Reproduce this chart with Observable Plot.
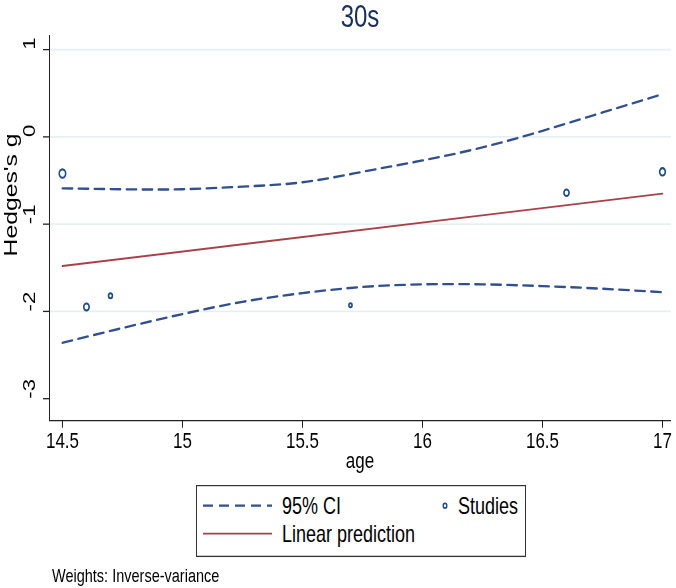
<!DOCTYPE html>
<html>
<head>
<meta charset="utf-8">
<script src="https://cdn.jsdelivr.net/npm/d3@7"></script>
<script src="https://cdn.jsdelivr.net/npm/@observablehq/plot@0.6"></script>
<style>
  html, body { margin: 0; padding: 0; background: #fff; }
  #outer { position: relative; width: 676px; height: 588px; overflow: visible; }
  #wrap {
    position: absolute; left: 0; top: 0; width: 676px; height: 452.3px;
    transform: scaleY(1.3); transform-origin: 0 0;
    font-family: "Liberation Sans", Arial, sans-serif; color: #000;
  }
  #chart { position: absolute; left: 0; top: 0; }
  #title { position: absolute; left: 260px; width: 200px; top: 0px; line-height: 25px;
           text-align: center; font-size: 24px; color: #1a2e5c; }
  #xlabel { position: absolute; left: 310px; width: 100px; top: 346px; line-height: 17px;
            text-align: center; font-size: 17px; }
  #ylabel { position: absolute; left: 10px; top: 150px; font-size: 19px; white-space: nowrap;
            transform: translate(-50%, -50%) rotate(-90deg); line-height: 19px; }
  #legend { position: absolute; left: 196px; top: 373px; }
  #caption { position: absolute; left: 52px; top: 436px; font-size: 14.5px; line-height: 15px; white-space: nowrap; }
</style>
</head>
<body>
<div id="outer">
<div id="wrap">
  <div id="title">30s</div>
  <div id="chart"></div>
  <div id="ylabel">Hedges's g</div>
  <div id="xlabel">age</div>
  <svg id="legend" width="330" height="56"></svg>
  <div id="caption">Weights: Inverse-variance</div>
</div>
</div>
<script>
// ---- data ----
const ciAge   = [14.5, 14.75, 15, 15.25, 15.5, 15.75, 16, 16.25, 16.5, 16.75, 17];
const ciUpper = [-0.59, -0.60, -0.60, -0.57, -0.52, -0.40, -0.27, -0.12, 0.07, 0.28, 0.49];
const ciLower = [-2.36, -2.19, -2.03, -1.89, -1.79, -1.72, -1.69, -1.69, -1.71, -1.74, -1.78];
const predAge = [14.5, 17];
const predG   = [-1.48, -0.65];
const studyAge    = [14.5, 14.6, 14.7, 15.7, 16.6, 17];
const studyG      = [-0.42, -1.95, -1.82, -1.93, -0.64, -0.40];
const studyWeight = [10.2, 7.3, 3.8, 2.4, 6.5, 8.1];
const xTicks = [14.5, 15, 15.5, 16, 16.5, 17];
const yTicks = [1, 0, -1, -2, -3];
const legendLabels = ["95% CI", "Studies", "Linear prediction"];

// ---- build tables ----
const ci = ciAge.map((a, i) => ({age: a, upper: ciUpper[i], lower: ciLower[i]}));
const pred = predAge.map((a, i) => ({age: a, g: predG[i]}));
const studies = studyAge.map((a, i) => ({age: a, g: studyG[i], w: studyWeight[i]}));

const navy = "#304f8c", dotColor = "#1f4e86", red = "#a8404a", axisColor = "#222";
const xDomain = [14.446, 17.0375], yDomain = [-3.252, 1.1605];

const chart = Plot.plot({
  width: 676, height: 350,
  marginTop: 26.9, marginBottom: 26.9, marginLeft: 49, marginRight: 5,
  style: {fontFamily: '"Liberation Sans", Arial, sans-serif', fontSize: "17px", background: "transparent", overflow: "visible"},
  x: {domain: xDomain, axis: null},
  y: {domain: yDomain, axis: null},
  r: {domain: [0, 10.2], range: [0, 3.2]},
  marks: [
    Plot.gridY(yTicks.filter(d => d > -3), {stroke: "#e6f0f2", strokeOpacity: 1, strokeWidth: 1.3}),
    Plot.line(ci, {x: "age", y: "upper", curve: "natural", stroke: navy, strokeWidth: 1.8, strokeDasharray: "10,6"}),
    Plot.line(ci, {x: "age", y: "lower", curve: "natural", stroke: navy, strokeWidth: 1.8, strokeDasharray: "10,6"}),
    Plot.line(pred, {x: "age", y: "g", stroke: red, strokeWidth: 1.5}),
    Plot.dot(studies, {x: "age", y: "g", r: "w", stroke: dotColor, strokeWidth: 1.6, fill: "none"}),
    Plot.ruleX([xDomain[0]], {stroke: axisColor, strokeWidth: 1}),
    Plot.ruleY([yDomain[0]], {stroke: axisColor, strokeWidth: 1}),
    Plot.axisX(xTicks, {tickSize: 6, tickPadding: 3, fontSize: 17, label: null, stroke: axisColor, tickFormat: d => String(d)}),
    Plot.axisY(yTicks, {tickSize: 6, tickFormat: () => "", label: null, stroke: axisColor}),
    Plot.text(yTicks, {y: d => d, text: d => String(d), frameAnchor: "left", rotate: -90, dx: -20, fontSize: 17})
  ]
});
document.getElementById("chart").appendChild(chart);

// ---- legend box ----
const lg = d3.select("#legend");
lg.append("rect").attr("x", 0.5).attr("y", 0.5).attr("width", 329).attr("height", 54.5)
  .attr("fill", "#fff").attr("stroke", "#333").attr("stroke-width", 1);
lg.append("line").attr("x1", 7).attr("x2", 76).attr("y1", 16).attr("y2", 16)
  .attr("stroke", navy).attr("stroke-width", 1.8).attr("stroke-dasharray", "10,6");
lg.append("line").attr("x1", 7).attr("x2", 76).attr("y1", 37.5).attr("y2", 37.5)
  .attr("stroke", red).attr("stroke-width", 1.5);
lg.append("circle").attr("cx", 249).attr("cy", 16).attr("r", 1.8)
  .attr("fill", "none").attr("stroke", dotColor).attr("stroke-width", 1.4);
const lt = [[86, 16, legendLabels[0]], [262, 16, legendLabels[1]], [86, 37.5, legendLabels[2]]];
lt.forEach(([x, y, t]) => {
  lg.append("text").attr("x", x).attr("y", y).attr("dy", "0.35em")
    .attr("font-size", 18).attr("font-family", '"Liberation Sans", Arial, sans-serif').text(t);
});
</script>
</body>
</html>
